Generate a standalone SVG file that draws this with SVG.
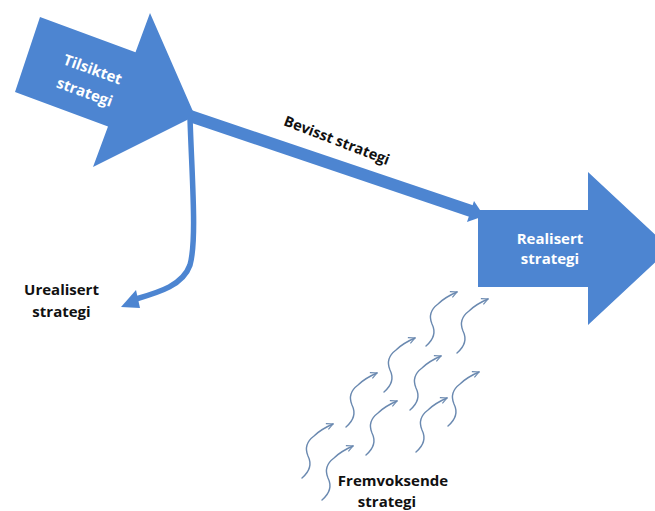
<svg xmlns="http://www.w3.org/2000/svg" xmlns:xlink="http://www.w3.org/1999/xlink" width="655" height="511" viewBox="0 0 655 511">
<style>
.blue{fill:#4d85d1}
.lbl{font-family:"Open Sans","Liberation Sans",sans-serif;font-weight:700;font-size:15px;text-anchor:middle}
.w{fill:#ffffff}
.k{fill:#111111}
.sq{fill:none;stroke:#6a89b0;stroke-width:1.4;stroke-linecap:round}
</style>
<defs>
<marker id="sqh" viewBox="0 0 10 10" refX="9" refY="5" markerWidth="8" markerHeight="8" markerUnits="userSpaceOnUse" orient="auto">
<path d="M1,1 L9,5 L1,9" fill="none" stroke="#6a89b0" stroke-width="1.4"/>
</marker>
<path id="sqp" class="sq" d="M0,0 C7,-6 10,-14 6,-22 C3,-29 4,-36 12,-42 C17,-47 24,-51 31,-54" marker-end="url(#sqh)"/>
</defs>
<rect width="655" height="511" fill="#ffffff"/>

<g id="connectors">
<path d="M190,116 L474,212" fill="none" stroke="#4d85d1" stroke-width="12"/>
<polygon class="blue" points="484,216 467,222 474,201"/>
<path d="M190,118 C192,180 197,240 190,265 C183,285 160,292 136,299" fill="none" stroke="#4d85d1" stroke-width="5.5"/>
<polygon class="blue" points="121,307 136,290 140,308"/>
</g>

<g id="tilsiktet">
<polygon class="blue" points="40,17 135.5,52.3 150,13 195,116 93,167 108,126.4 15,92"/>
<g transform="translate(89,80) rotate(20)">
<text class="lbl w" x="0" y="-6" font-size="14">Tilsiktet</text>
<text class="lbl w" x="0" y="18" font-size="14">strategi</text>
</g>
</g>

<g id="bevisst">
<text class="lbl k" transform="translate(335,145) rotate(21)" x="0" y="0" style="font-size:14.5px">Bevisst strategi</text>
</g>

<g id="realisert">
<polygon class="blue" points="478,210 588,210 588,172 670,248.5 588,325 588,287 478,287"/>
<text class="lbl w" x="550" y="244">Realisert</text>
<text class="lbl w" x="550" y="264">strategi</text>
</g>

<g id="urealisert">
<text class="lbl k" x="61.5" y="295">Urealisert</text>
<text class="lbl k" x="61.5" y="317">strategi</text>
</g>

<g id="fremvoksende">
<use xlink:href="#sqp" transform="translate(302,478)"/>
<use xlink:href="#sqp" transform="translate(322,500)"/>
<use xlink:href="#sqp" transform="translate(346,427)"/>
<use xlink:href="#sqp" transform="translate(366,455)"/>
<use xlink:href="#sqp" transform="translate(384,392)"/>
<use xlink:href="#sqp" transform="translate(410,410)"/>
<use xlink:href="#sqp" transform="translate(426,346)"/>
<use xlink:href="#sqp" transform="translate(416,452)"/>
<use xlink:href="#sqp" transform="translate(448,426)"/>
<use xlink:href="#sqp" transform="translate(457,353)"/>
<text class="lbl k" x="393" y="486">Fremvoksende</text>
<text class="lbl k" x="387" y="507">strategi</text>
</g>
</svg>
